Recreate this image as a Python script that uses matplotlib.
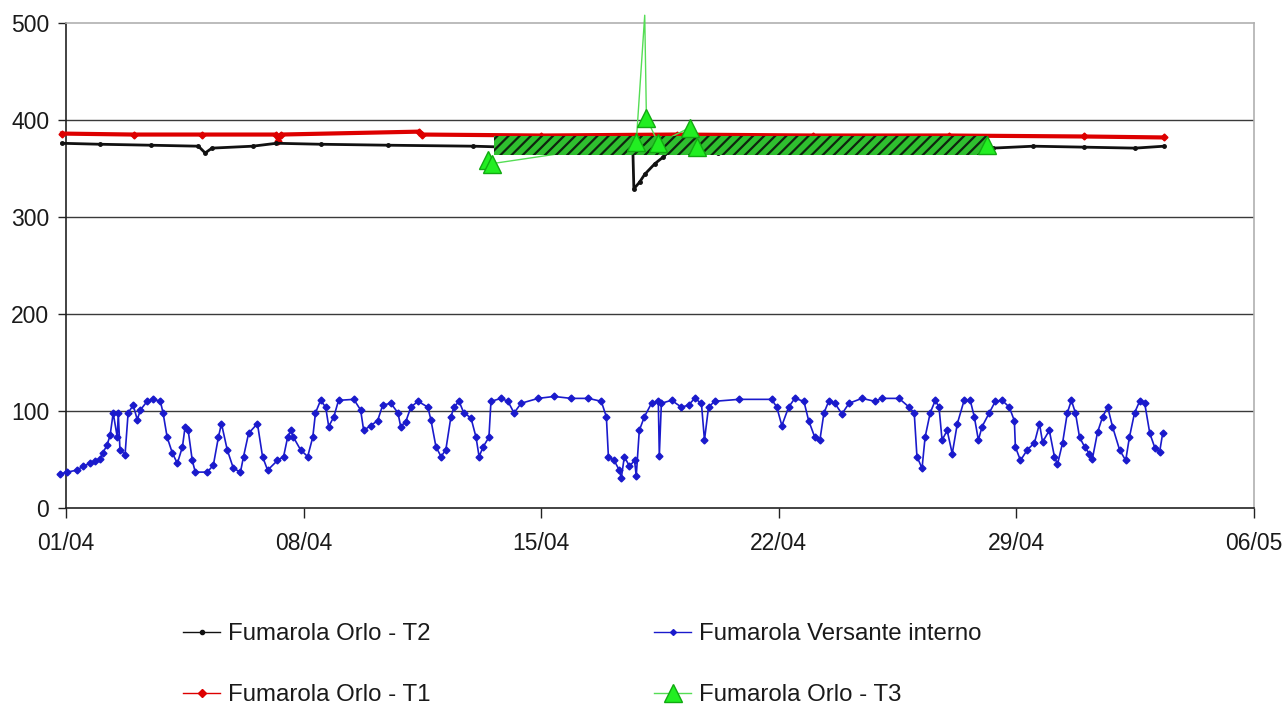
import matplotlib
matplotlib.use("Agg")
import matplotlib.pyplot as plt
from matplotlib.lines import Line2D

plt.rcParams['font.family'] = ['Liberation Sans', 'DejaVu Sans']
plt.rcParams['hatch.linewidth'] = 1.6

# ---- data (days since 01/04) ----
tick_days = [0, 7, 14, 21, 28, 35]
tick_labels = ["01/04", "08/04", "15/04", "22/04", "29/04", "06/05"]
y_ticks = [0, 100, 200, 300, 400, 500]

vers_days = [-0.18, 0.03, 0.32, 0.50, 0.71, 0.86, 1.00, 1.09, 1.21, 1.30, 1.39, 1.51, 1.54, 1.59, 1.74,
             1.83, 1.98, 2.10, 2.19, 2.39, 2.57, 2.78, 2.86, 2.98, 3.13, 3.28, 3.43, 3.51, 3.60, 3.72,
             3.81, 4.16, 4.34, 4.49, 4.58, 4.75, 4.93, 5.14, 5.23, 5.38, 5.64, 5.79, 5.94, 6.23, 6.41,
             6.53, 6.62, 6.70, 6.91, 7.12, 7.27, 7.35, 7.50, 7.65, 7.74, 7.89, 8.03, 8.48, 8.68, 8.77,
             8.98, 9.18, 9.33, 9.57, 9.78, 9.86, 10.01, 10.16, 10.37, 10.66, 10.75, 10.90, 11.05, 11.19,
             11.34, 11.43, 11.58, 11.72, 11.93, 12.08, 12.17, 12.29, 12.46, 12.52, 12.82, 13.02, 13.20,
             13.41, 13.91, 14.38, 14.88, 15.39, 15.77, 15.92, 15.98, 16.15, 16.30, 16.36, 16.45, 16.60,
             16.75, 16.80, 16.89, 17.04, 17.25, 17.45, 17.48, 17.54, 17.84, 18.13, 18.34, 18.52, 18.72,
             18.81, 18.93, 19.11, 19.82, 20.79, 20.94, 21.09, 21.29, 21.47, 21.74, 21.88, 22.06, 22.21,
             22.33, 22.47, 22.65, 22.86, 23.07, 23.45, 23.83, 24.04, 24.54, 24.84, 24.99, 25.07, 25.22,
             25.31, 25.46, 25.61, 25.72, 25.81, 25.96, 26.11, 26.26, 26.46, 26.64, 26.76, 26.88, 26.99,
             27.20, 27.38, 27.58, 27.79, 27.94, 27.97, 28.12, 28.32, 28.53, 28.68, 28.77, 28.97, 29.12,
             29.21, 29.36, 29.50, 29.62, 29.74, 29.86, 30.01, 30.15, 30.24, 30.39, 30.54, 30.69, 30.83,
             31.04, 31.22, 31.33, 31.48, 31.63, 31.78, 31.93, 32.08, 32.22, 32.31]
vers_vals = [35, 37, 39, 43, 46, 48, 51, 57, 65, 75, 98, 73, 98, 60, 55,
             98, 106, 91, 101, 110, 112, 110, 98, 73, 57, 46, 63, 84, 80, 49,
             37, 37, 44, 73, 87, 60, 41, 37, 53, 77, 87, 53, 39, 49, 53,
             73, 80, 73, 60, 53, 73, 98, 111, 104, 84, 94, 111, 112, 101, 80,
             85, 90, 106, 108, 98, 84, 89, 104, 110, 104, 91, 63, 53, 60,
             94, 104, 110, 98, 93, 73, 53, 63, 73, 110, 113, 110, 98,
             108, 113, 115, 113, 113, 110, 94, 53, 49, 39, 31, 53, 43,
             49, 33, 80, 94, 108, 110, 54, 108, 111, 104, 106, 113, 108,
             70, 104, 110, 112, 112, 104, 85, 104, 113, 110, 90, 73, 70,
             98, 110, 108, 97, 108, 113, 110, 113, 113, 104, 98, 53, 41,
             73, 98, 111, 104, 70, 80, 56, 87, 111, 111, 94, 70, 84,
             98, 110, 111, 104, 90, 63, 49, 60, 67, 87, 68, 80, 53,
             45, 67, 98, 111, 98, 73, 63, 56, 51, 78, 94, 104, 84,
             60, 49, 73, 98, 110, 108, 77, 62, 58, 77]

t2_days = [-0.12, 1.0, 2.5, 3.9, 4.1, 4.3, 5.5, 6.2, 7.5, 9.5, 12.0, 13.0, 15.0, 16.7, 16.73,
           16.9, 17.05, 17.35, 17.6, 17.9, 18.5, 19.2, 20.5, 22.0, 24.0, 26.0, 27.3, 28.5, 30.0,
           31.5, 32.35]
t2_vals = [376, 375, 374, 373, 366, 371, 373, 376, 375, 374, 373, 372, 371, 370, 329,
           336, 344, 355, 362, 372, 372, 366, 368, 368, 367, 368, 371, 373, 372,
           371, 373]

t1_days = [-0.12, 2.0, 4.0, 6.2, 6.26, 6.32, 10.4, 10.5, 14.0, 18.0, 22.0, 26.0, 30.0, 32.35]
t1_vals = [386, 385, 385, 385, 378, 385, 388, 385, 384, 385, 384, 384, 383, 382]

t3_days = [12.43, 12.55, 16.8, 17.05, 17.1, 17.45, 18.37, 18.58, 27.14]
t3_vals = [359, 355, 377, 508, 402, 376, 392, 372, 374]
t3_marked = [True, True, True, False, True, True, True, True, True]

# dense T3 band (start day, end day, low, high)
band_days = [12.6, 27.15]
band_low = 364
band_high = 383

# ---- figure ----
W, H = 1286, 709
fig = plt.figure(figsize=(W / 100, H / 100), dpi=100)
ax = fig.add_axes([66 / W, 1 - 508 / H, (1254 - 66) / W, (508 - 23) / H])

ax.set_xlim(0, 35)
ax.set_ylim(0, 500)

for yv in y_ticks[1:-1]:
    ax.axhline(yv, color='#3a3a3a', lw=1.0, zorder=1)

# T1 red
ax.plot(t1_days, t1_vals, color='#dd0000', lw=3.0, marker='D', ms=3.5,
        mfc='#dd0000', mec='#dd0000', zorder=3, clip_on=False)
# T2 black
ax.plot(t2_days, t2_vals, color='#111111', lw=2.0, marker='o', ms=2.5,
        mfc='#111111', mec='#111111', zorder=4, clip_on=False)

# T3 green line (under the dense band)
ax.plot(t3_days, t3_vals, color='#55dd55', lw=1.0, zorder=4.5, clip_on=False)

# T3 dense band
ax.fill_between(band_days, [band_low] * 2, [band_high] * 2, facecolor='#2fbf2f',
                edgecolor='#0e240e', hatch='///', lw=0, zorder=5)

# T3 markers
mk_d = [d for d, m in zip(t3_days, t3_marked) if m]
mk_v = [v for v, m in zip(t3_vals, t3_marked) if m]
ax.plot(mk_d, mk_v, ls='none', marker='^', ms=13, mfc='#22ee22', mec='#11aa11',
        mew=1.0, zorder=7, clip_on=False)

# Versante interno blue
ax.plot(vers_days, vers_vals, color='#1a1acc', lw=1.2, marker='D', ms=3.5,
        mfc='#1a1acc', mec='#1a1acc', zorder=8, clip_on=False)

# spines
for s in ['top', 'right']:
    ax.spines[s].set_color('#b0b0b0')
    ax.spines[s].set_linewidth(1.2)
for s in ['left', 'bottom']:
    ax.spines[s].set_color('#222222')
    ax.spines[s].set_linewidth(1.2)

ax.set_yticks(y_ticks)
ax.set_yticklabels([str(v) for v in y_ticks])
ax.set_xticks(tick_days)
ax.set_xticklabels(tick_labels)
ax.tick_params(axis='y', length=6, width=1, color='#222222', pad=6, labelsize=16.5, labelcolor='#1a1a1a')
ax.tick_params(axis='x', length=7, width=1, color='#222222', pad=10, labelsize=16.5, labelcolor='#1a1a1a')

# legend proxies (thin lines as in the legend of the reference)
handles = [
    Line2D([], [], color='#111111', lw=1.0, marker='o', ms=3, mfc='#111111', mec='#111111'),
    Line2D([], [], color='#dd0000', lw=1.0, marker='D', ms=4, mfc='#dd0000', mec='#dd0000'),
    Line2D([], [], color='#1a1acc', lw=1.0, marker='D', ms=3, mfc='#1a1acc', mec='#1a1acc'),
    Line2D([], [], color='#55dd55', lw=1.0, marker='^', ms=13, mfc='#22ee22', mec='#11aa11'),
]
labels = ['Fumarola Orlo - T2', 'Fumarola Orlo - T1', 'Fumarola Versante interno', 'Fumarola Orlo - T3']
fig.legend(handles, labels, loc='upper left', bbox_to_anchor=(183 / W, 1 - 623 / H),
           ncol=2, frameon=False, fontsize=17.3, borderpad=0, borderaxespad=0,
           handlelength=1.55, handletextpad=0.33, columnspacing=9.3, labelspacing=1.63,
           labelcolor='#1a1a1a')

fig.savefig('out.png', dpi=100, facecolor='white')
